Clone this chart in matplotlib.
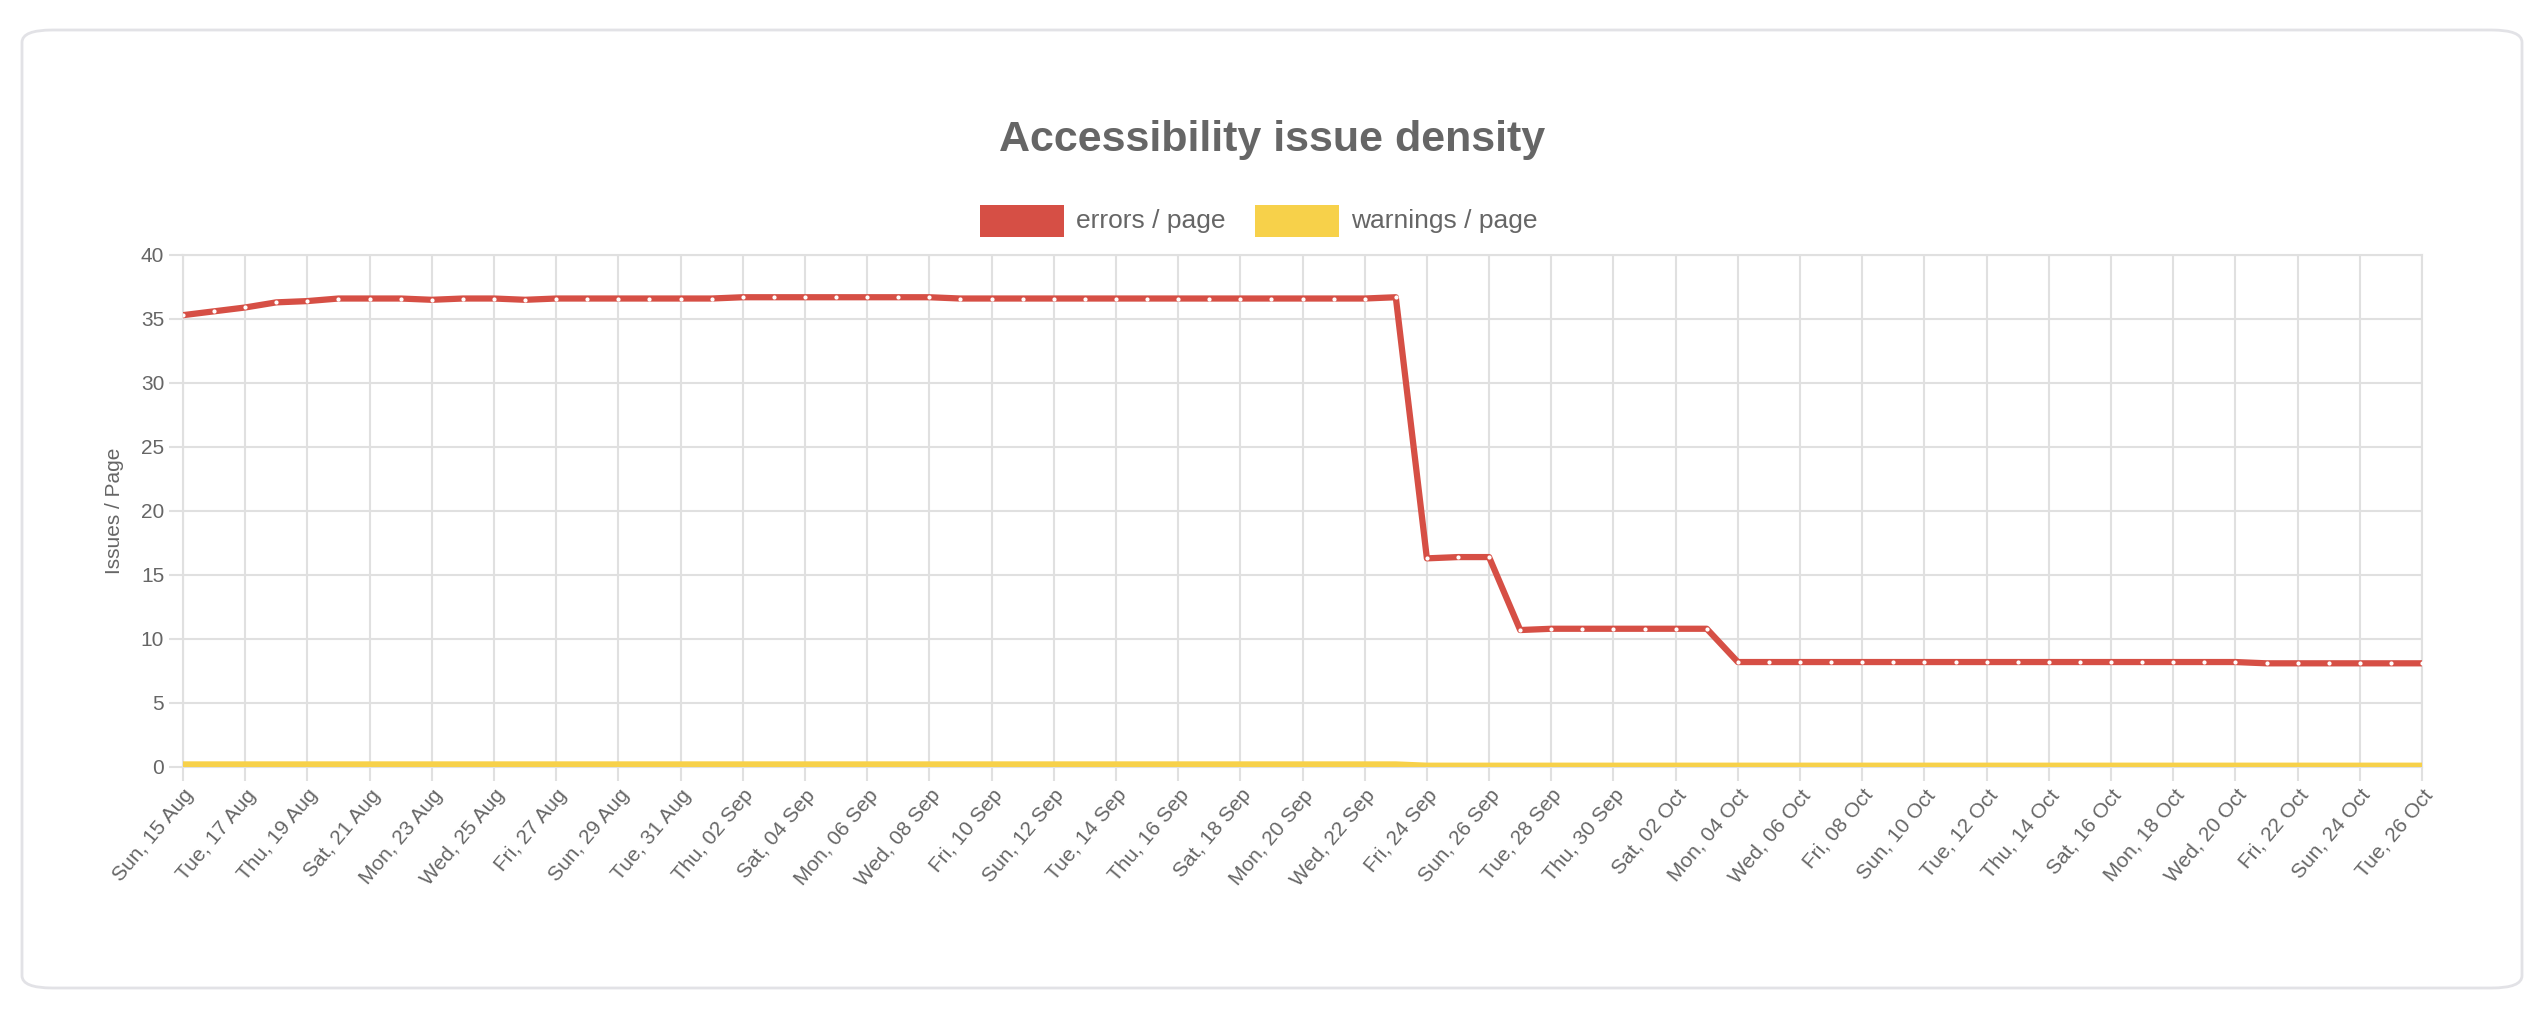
import matplotlib
matplotlib.use("Agg")
import matplotlib.pyplot as plt
import numpy as np
import datetime as dt
from matplotlib.patches import FancyBboxPatch, Rectangle

plt.rcParams["font.family"] = "Liberation Sans"

start = dt.date(2021, 8, 15)
dates = [start + dt.timedelta(days=i) for i in range(73)]
errors = ([35.3, 35.6, 35.9, 36.3, 36.4, 36.6, 36.6, 36.6, 36.5, 36.6, 36.6, 36.5, 36.6, 36.6,
           36.6, 36.6, 36.6, 36.6, 36.7, 36.7, 36.7, 36.7, 36.7, 36.7, 36.7, 36.6, 36.6, 36.6,
           36.6, 36.6, 36.6, 36.6, 36.6, 36.6, 36.6, 36.6, 36.6, 36.6, 36.6, 36.7,
           16.3, 16.4, 16.4, 10.7, 10.8, 10.8, 10.8, 10.8, 10.8, 10.8, 8.2]
          + [8.2] * 16 + [8.1] * 6)
warnings = [0.2] * 40 + [0.1] * 33
labels = [d.strftime("%a, %d %b") for d in dates]

W, H = 2544, 1028
fig = plt.figure(figsize=(W / 100, H / 100), dpi=100)
fig.patch.set_facecolor("white")
card = FancyBboxPatch((22 / W, 40 / H), (W - 44) / W, (H - 70) / H,
                      boxstyle="round,pad=0,rounding_size=0.012", transform=fig.transFigure,
                      facecolor="white", edgecolor="#e2e2e6", linewidth=2, zorder=-5)
fig.patches.append(card)

L, R, T, B = 183, 2422, 255, 767
ax = fig.add_axes([L / W, 1 - B / H, (R - L) / W, (B - T) / H])
ax.set_zorder(5)
x = np.arange(len(dates))
ax.plot(x, errors, color="#d64f45", lw=4.5, solid_joinstyle="round", zorder=3)
ax.plot(x, errors, ls="none", marker="o", ms=2, color="white", zorder=4)
ax.plot(x, warnings, color="#f7d14a", lw=4.5, zorder=3)
ax.set_xlim(0, len(dates) - 1)
ax.set_ylim(0, 40)
ax.set_yticks(range(0, 41, 5))
ax.set_xticks(x[::2])
ax.set_xticklabels(labels[::2], rotation=50, ha="right", rotation_mode="anchor")
ax.grid(True, color="#e0e0e0", lw=1.5)
ax.set_axisbelow(True)
for s in ax.spines.values():
    s.set_color("#e0e0e0"); s.set_linewidth(1.5)
ax.tick_params(colors="#e0e0e0", labelcolor="#666666", labelsize=15, length=10, width=1.5)
ax.set_ylabel("Issues / Page", color="#666666", fontsize=15, labelpad=12)

fig.text(0.5, 1 - 140 / H, "Accessibility issue density", ha="center", va="center",
         fontsize=31, fontweight="bold", color="#666666")
# legend
for bx, txt, c in [(980, "errors / page", "#d64f45"), (1255, "warnings / page", "#f7d14a")]:
    fig.patches.append(Rectangle((bx / W, 1 - 237 / H), 84 / W, 32 / H, transform=fig.transFigure,
                                 facecolor=c, edgecolor="none"))
    fig.text((bx + 96) / W, 1 - 221 / H, txt, ha="left", va="center", fontsize=19, color="#666666")

fig.savefig("out.png", dpi=100)
